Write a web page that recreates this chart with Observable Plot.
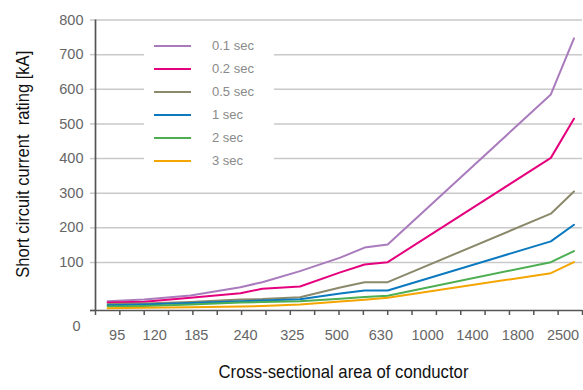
<!DOCTYPE html>
<html>
<head>
<meta charset="utf-8">
<script src="https://cdn.jsdelivr.net/npm/d3@7"></script>
<script src="https://cdn.jsdelivr.net/npm/@observablehq/plot@0.6"></script>
<style>
  html, body { margin: 0; padding: 0; background: #fff; }
  #wrap { position: relative; width: 583px; height: 390px; }
  #legend { position: absolute; left: 144px; top: 34px; width: 130px; height: 138px; background: #fff; }
  .row { display: flex; align-items: center; height: 23px; }
  .row svg { margin-left: 10px; }
  .row span { margin-left: 21px; font: 13px "Liberation Sans", Arial, sans-serif; color: #8a8a8a; }
</style>
</head>
<body>
<div id="wrap"></div>
<script>
// Series names and colours
const seriesNames = ["0.1 sec", "0.2 sec", "0.5 sec", "1 sec", "2 sec", "3 sec"];
const seriesColors = ["#a97bbd", "#e5007d", "#8b896b", "#0a79bf", "#4dae52", "#f5a500"];

// x positions of the sampled points (in axis-tick units, 0..20)
const xPos = [0.5, 2.0, 3.9, 5.95, 6.85, 8.4, 10.05, 11.05, 12.0, 18.7, 19.65];

// Short circuit current rating [kA]
const v01 = [19.4, 22.9, 31.3, 48.5, 59, 82, 114, 143, 152, 585, 747];
const v02 = [16.7, 18.1, 26.5, 36, 45.2, 50, 79.4, 95.8, 101, 402, 515];
const v05 = [13.5, 14.5, 17.7, 22.9, 24, 27.7, 47.9, 59, 59, 241, 305];
const v1  = [10.8, 12.5, 15.6, 19.4, 20.8, 23.5, 35.2, 41.7, 41.7, 161, 209];
const v2  = [8.3, 9.5, 12.5, 16.7, 17.7, 19.4, 24.6, 28.3, 30.6, 101, 133];
const v3  = [4.6, 5.5, 6.9, 8.3, 9.4, 12.5, 19, 22.3, 26.5, 77.7, 101];
const seriesValues = [v01, v02, v05, v1, v2, v3];

// Axis ticks and labels
const xTickPos = [0,1,2,3,4,5,6,7,8,9,10,11,12,13,14,15,16,17,18,19,20];
const xLabels = ["95", "120", "185", "240", "325", "500", "630", "1000", "1400", "1800", "2500"];
const xLabelPos = [0.89, 2.43, 4.14, 6.16, 8.08, 9.91, 11.72, 13.64, 15.48, 17.35, 19.2];
const yTicks = [100, 200, 300, 400, 500, 600, 700, 800];
const xTitle = "Cross-sectional area of conductor";
const yTitle = "Short circuit current\u00A0 rating [kA]";

const rows = [];
seriesNames.forEach((s, k) => {
  xPos.forEach((x, i) => rows.push({series: s, x, v: seriesValues[k][i]}));
});
const labelOf = new Map(xLabelPos.map((p, i) => [p, xLabels[i]]));

const font = "'Liberation Sans', Arial, sans-serif";

const chart = Plot.plot({
  width: 583,
  height: 390,
  marginLeft: 95,
  marginRight: 1,
  marginTop: 19.5,
  marginBottom: 80,
  style: {fontFamily: font, fontSize: "14.5px", background: "#fff"},
  x: {domain: [0, 20], label: null},
  y: {type: "linear", domain: [0, 100, 800], range: [310, 262, 19.5], label: null},
  color: {domain: seriesNames, range: seriesColors},
  marks: [
    Plot.gridY(yTicks, {stroke: "#c9c9c9", strokeOpacity: 1, strokeWidth: 1.5}),
    Plot.axisY(yTicks, {tickSize: 5, tickPadding: 7, stroke: "#c9c9c9", strokeWidth: 1.5, fill: "#666", fontSize: 14.5, label: null}),
    Plot.axisY([0], {tickSize: 5, stroke: "#555", strokeWidth: 1.7, tickFormat: () => "", label: null}),
    Plot.text([0], {y: d => d, frameAnchor: "left", dx: -15, dy: 15.5, textAnchor: "end", fill: "#666", fontSize: 14.5, text: d => String(d)}),
    Plot.axisX(xTickPos, {tickSize: 5, stroke: "#555", strokeWidth: 1.5, tickFormat: () => "", label: null}),
    Plot.axisX(xLabelPos, {tickSize: 0, tickPadding: 19, fill: "#666", fontSize: 14.5, tickFormat: d => labelOf.get(d), label: null}),
    Plot.ruleY([0], {stroke: "#555", strokeWidth: 1.7}),
    Plot.ruleX([0], {y1: 0, y2: 800, stroke: "#555", strokeWidth: 1.7}),
    Plot.line(rows, {x: "x", y: "v", z: "series", stroke: "series", strokeWidth: 2}),
    Plot.text([xTitle], {frameAnchor: "bottom", textAnchor: "middle", dx: 4.5, dy: 67, fontSize: 19, fill: "#111"}),
    Plot.text([yTitle], {frameAnchor: "left", textAnchor: "middle", rotate: -90, dx: -73, dy: -1, fontSize: 19, fill: "#111"})
  ]
});

// condense the two axis titles to the reference's narrow lettering
chart.querySelectorAll("text").forEach(t => {
  if (t.textContent === xTitle) { t.setAttribute("textLength", 250); t.setAttribute("lengthAdjust", "spacingAndGlyphs"); }
  if (t.textContent === yTitle) { t.setAttribute("textLength", 227); t.setAttribute("lengthAdjust", "spacingAndGlyphs"); }
});

const wrap = document.getElementById("wrap");
wrap.appendChild(chart);

const legend = document.createElement("div");
legend.id = "legend";
seriesNames.forEach((s, k) => {
  const row = document.createElement("div");
  row.className = "row";
  row.innerHTML = `<svg width="37" height="4"><line x1="0" x2="37" y1="2" y2="2" stroke="${seriesColors[k]}" stroke-width="2.2"/></svg><span>${s}</span>`;
  legend.appendChild(row);
});
wrap.appendChild(legend);
</script>
</body>
</html>
